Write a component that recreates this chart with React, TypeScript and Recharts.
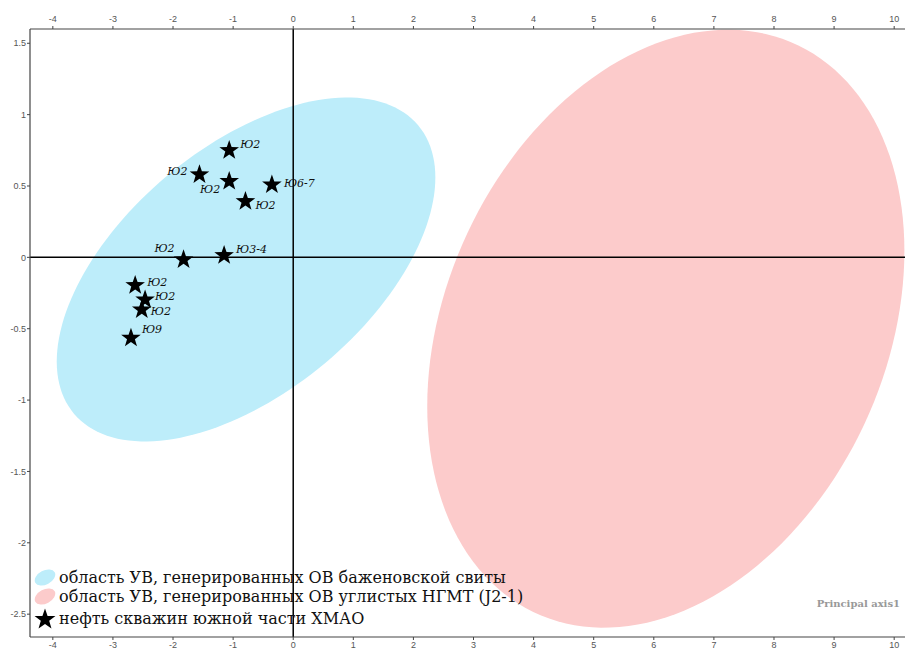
import React from 'react';
import {
  ScatterChart,
  Scatter,
  XAxis,
  YAxis,
  ReferenceArea,
  ReferenceLine,
  Legend,
  Label,
} from 'recharts';

// ---- data ----
const wellX = [-1.065, -1.56, -1.065, -0.355, -0.795, -1.825, -1.15, -2.63, -2.465, -2.52, -2.7];
const wellY = [0.757, 0.587, 0.54, 0.516, 0.399, -0.009, 0.021, -0.189, -0.29, -0.36, -0.558];
const wellLabels = ['Ю2', 'Ю2', 'Ю2', 'Ю6-7', 'Ю2', 'Ю2', 'Ю3-4', 'Ю2', 'Ю2', 'Ю2', 'Ю9'];

const xTicks = [-4, -3, -2, -1, 0, 1, 2, 3, 4, 5, 6, 7, 8, 9, 10];
const yTicks = [-2.5, -2, -1.5, -1, -0.5, 0, 0.5, 1, 1.5];
const xDomain = [-4.38, 10.18];
const yDomain = [-2.66, 1.6];

// regions (ellipses): centre, half extents (data units), tilt (correlation)
const regionNames = [
  'область УВ, генерированных ОВ баженовской свиты',
  'область УВ, генерированных ОВ углистых НГМТ (J2-1)',
];
const regionCX = [-0.785, 6.2];
const regionCY = [-0.085, -0.5];
const regionHalfX = [3.15, 3.97];
const regionHalfY = [1.205, 2.095];
const regionTilt = [0.535, 0.26];
const regionColors = ['#bdedfa', '#fccbcb'];

const wellLegend = 'нефть скважин южной части ХМАО';
const axisTitle = 'Principal axis1';

// annotation layout for the well labels: [anchor, dx, dy]
const labelLayout: [string, number, number][] = [
  ['start', 11, -5],
  ['end', -12, -2],
  ['end', -9, 9],
  ['start', 12, 0],
  ['start', 10, 5],
  ['end', -9, -10],
  ['start', 12, -5],
  ['start', 12, -2],
  ['start', 10, -2],
  ['start', 9, 3],
  ['start', 11, -7],
];

const wellData = wellX.map((x, i) => ({ x, y: wellY[i], name: wellLabels[i], idx: i }));

const starPoints = (cx: number, cy: number, r: number, ratio = 0.4) => {
  const pts: string[] = [];
  for (let k = 0; k < 10; k++) {
    const rr = k % 2 === 0 ? r : r * ratio;
    const a = -Math.PI / 2 + (k * Math.PI) / 5;
    pts.push(`${cx + rr * Math.cos(a)},${cy + rr * Math.sin(a)}`);
  }
  return pts.join(' ');
};

const StarShape = (props: any) => {
  const { cx, cy, payload } = props;
  const [anchor, dx, dy] = labelLayout[payload.idx];
  return (
    <g>
      <polygon points={starPoints(cx, cy + 1, 10.3)} fill="#000" />
      <text
        x={cx + dx}
        y={cy + dy}
        textAnchor={anchor as any}
        dominantBaseline="central"
        fontFamily="DejaVu Serif"
        fontStyle="italic"
        fontSize={11}
        fill="#111"
      >
        {payload.name}
      </text>
    </g>
  );
};

const makeEllipseShape = (tilt: number, fill: string) => (props: any) => {
  const { x, y, width, height } = props;
  const d = Math.acos(tilt);
  const pts: string[] = [];
  const n = 160;
  for (let k = 0; k < n; k++) {
    const t = (k / n) * Math.PI * 2;
    pts.push(`${x + (width / 2) * (1 + Math.cos(t))},${y + (height / 2) * (1 - Math.cos(t - d))}`);
  }
  return <polygon points={pts.join(' ')} fill={fill} stroke="none" />;
};

const LegendContent = () => {
  const rowStyle: React.CSSProperties = {
    display: 'flex',
    alignItems: 'center',
    whiteSpace: 'nowrap',
  };
  const textStyle: React.CSSProperties = {
    fontFamily: 'DejaVu Serif',
    fontSize: 16,
    color: '#111',
    marginLeft: 1,
  };
  return (
    <div style={{ display: 'flex', flexDirection: 'column' }}>
      {regionNames.map((n, i) => (
        <div key={n} style={{ ...rowStyle, height: 19 }}>
          <svg width={26} height={19}>
            <ellipse cx={13} cy={9.5} rx={11} ry={7} fill={regionColors[i]} transform="rotate(-28 13 9.5)" />
          </svg>
          <span style={textStyle}>{n}</span>
        </div>
      ))}
      <div style={{ ...rowStyle, height: 25 }}>
        <svg width={26} height={25}>
          <polygon points={starPoints(13, 13.5, 11)} fill="#000" />
        </svg>
        <span style={textStyle}>{wellLegend}</span>
      </div>
    </div>
  );
};

const AxisTitle = (props: any) => {
  const vb = props.viewBox || { x: 30, y: 637, width: 875, height: 11 };
  return (
    <text
      x={vb.x + vb.width - 5}
      y={vb.y - 30}
      textAnchor="end"
      fontFamily="DejaVu Serif"
      fontWeight="bold"
      fontSize={10}
      fill="#999"
    >
      {axisTitle}
    </text>
  );
};

const tickStyle = { fontSize: 9, fill: '#555', fontFamily: 'Liberation Sans' };

export default function App() {
  return (
    <div style={{ position: 'absolute', left: 0, top: 0, width: 905, height: 648, background: '#fff' }}>
      <ScatterChart width={905} height={648} margin={{ top: 0, right: 0, bottom: 0, left: 0 }}>
        <XAxis
          xAxisId="t"
          orientation="top"
          type="number"
          dataKey="x"
          domain={xDomain}
          ticks={xTicks}
          allowDataOverflow
          height={29}
          tickSize={3}
          tickMargin={4}
          tick={tickStyle}
          axisLine={{ stroke: '#444', strokeWidth: 1.2 }}
          tickLine={{ stroke: '#444' }}
          interval={0}
        />
        <XAxis
          xAxisId="b"
          orientation="bottom"
          type="number"
          dataKey="x"
          domain={xDomain}
          ticks={xTicks}
          allowDataOverflow
          height={11}
          tickSize={3}
          tickMargin={2}
          tick={tickStyle}
          axisLine={{ stroke: '#444', strokeWidth: 1.2 }}
          tickLine={{ stroke: '#444' }}
          interval={0}
        >
          <Label content={AxisTitle} />
        </XAxis>
        <YAxis
          type="number"
          dataKey="y"
          domain={yDomain}
          ticks={yTicks}
          allowDataOverflow
          width={30}
          tickSize={3}
          tickMargin={1}
          tick={tickStyle}
          axisLine={{ stroke: '#444', strokeWidth: 1.2 }}
          tickLine={{ stroke: '#444' }}
          interval={0}
        />
        {regionNames.map((n, i) => (
          <ReferenceArea
            key={n}
            xAxisId="b"
            x1={regionCX[i] - regionHalfX[i]}
            x2={regionCX[i] + regionHalfX[i]}
            y1={regionCY[i] - regionHalfY[i]}
            y2={regionCY[i] + regionHalfY[i]}
            ifOverflow="hidden"
            shape={makeEllipseShape(regionTilt[i], regionColors[i])}
          />
        ))}
        <ReferenceLine xAxisId="b" x={0} stroke="#000" strokeWidth={1.5} />
        <ReferenceLine xAxisId="b" y={0} stroke="#000" strokeWidth={1.5} />
        <Scatter
          xAxisId="b"
          data={wellData}
          shape={StarShape}
          isAnimationActive={false}
          name={wellLegend}
        />
        <Legend
          layout="vertical"
          align="center"
          verticalAlign="middle"
          content={LegendContent}
          wrapperStyle={{ left: 32, top: 568, width: 580 }}
        />
      </ScatterChart>
    </div>
  );
}
